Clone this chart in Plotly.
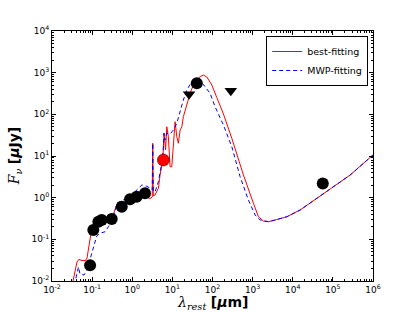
import plotly.graph_objects as go

# Photometric points (rest wavelength in micron, flux in microJy)
obs_wl = [0.089, 0.107, 0.143, 0.173, 0.308, 0.547, 0.88, 1.29, 2.08, 40.6, 56000]
obs_flux = [0.024, 0.168, 0.265, 0.291, 0.308, 0.607, 0.914, 1.05, 1.27, 555, 2.2]
red_wl = [5.97]
red_flux = [8.0]
lim_wl = [26, 286]
lim_flux = [302, 369]

best_wl = [0.0325, 0.0334, 0.042, 0.047, 0.056, 0.0684, 0.0746, 0.0838, 0.0966, 0.118, 0.157,
           0.249, 0.332, 0.41, 0.469, 0.66, 0.989, 1.57, 2.34, 2.78, 3.15, 3.24, 3.34, 3.70,
           4.48, 4.93, 5.76, 6.21, 6.77, 7.25, 7.94, 8.77, 9.66, 10.6, 11.7, 12.9, 14.1, 15.6,
           17.2, 18.8, 22.9, 27.6, 33.4, 40.6, 49.1, 59.3, 72.1, 96.1, 128, 187, 303, 590,
           1047, 1396, 1858, 2478, 3640, 7130, 15300, 39900, 1.04e5, 2.70e5, 1e6]
best_flux = [0.008, 0.01, 0.0286, 0.0332, 0.031, 0.031, 0.0356, 0.073, 0.168, 0.221, 0.308,
             0.325, 0.384, 0.667, 0.766, 0.745, 0.98, 1.16, 1.04, 0.955, 1.04, 20.2, 1.10, 1.16,
             1.68, 3.50, 8.01, 35.1, 13.9, 50.5, 29.0, 5.53, 5.53, 20.2, 66.5, 29.0, 20.2, 42.0,
             50.5, 87.7, 184, 319, 506, 667, 800, 879, 787, 506, 253, 102, 26.6, 3.50,
             0.733, 0.349, 0.275, 0.265, 0.291, 0.349, 0.506, 0.966, 1.83, 3.50, 10.6]

mwp_wl = [0.036, 0.0428, 0.0458, 0.0499, 0.0628, 0.0746, 0.0888, 0.107, 0.130, 0.157, 0.210,
          0.254, 0.308, 0.372, 0.41, 0.497, 0.741, 1.17, 1.73, 2.21, 2.78, 3.15, 3.24, 3.34,
          3.70, 4.48, 4.93, 5.44, 5.93, 6.21, 6.58, 7.25, 8.77, 10.6, 12.9, 15.6, 18.8, 22.9,
          30.5, 40.6, 49.1, 65.3, 87.1, 116, 187, 303, 488, 785, 1153, 1538, 2478, 3640, 7130,
          15300, 39900, 1.04e5, 2.70e5, 1e6]
mwp_flux = [0.008, 0.0184, 0.0217, 0.0147, 0.0139, 0.0184, 0.0319, 0.0655, 0.120, 0.140, 0.152,
            0.201, 0.291, 0.460, 0.733, 0.80, 0.98, 1.39, 2.01, 1.90, 1.71, 1.53, 20.2, 1.45,
            1.37, 2.42, 3.84, 6.79, 13.9, 35.1, 24.2, 35.1, 33.7, 42.0, 60.9, 127, 221, 384,
            607, 732, 648, 460, 319, 152, 55.4, 16.7, 3.18, 0.879, 0.384, 0.291, 0.265, 0.291, 0.349,
            0.506, 0.966, 1.83, 3.50, 10.6]

x_ticks = [1e-2, 1e-1, 1, 10, 100, 1e3, 1e4, 1e5, 1e6]
x_labels = ["10<sup>-2</sup>", "10<sup>-1</sup>", "10<sup>0</sup>", "10<sup>1</sup>", "10<sup>2</sup>",
            "10<sup>3</sup>", "10<sup>4</sup>", "10<sup>5</sup>", "10<sup>6</sup>"]
y_ticks = [1e-2, 1e-1, 1, 10, 100, 1e3, 1e4]
y_labels = ["10<sup>-2</sup>", "10<sup>-1</sup>", "10<sup>0</sup>", "10<sup>1</sup>", "10<sup>2</sup>",
            "10<sup>3</sup>", "10<sup>4</sup>"]

fig = go.Figure()
fig.add_trace(go.Scatter(x=best_wl, y=best_flux, mode="lines", name="best-fitting",
                         line=dict(color="#ff0000", width=1)))
fig.add_trace(go.Scatter(x=mwp_wl, y=mwp_flux, mode="lines", name="MWP-fitting",
                         line=dict(color="#0000ff", width=1, dash="4px,3px")))
fig.add_trace(go.Scatter(x=obs_wl, y=obs_flux, mode="markers", showlegend=False,
                         marker=dict(color="black", size=12, line=dict(width=0))))
fig.add_trace(go.Scatter(x=red_wl, y=red_flux, mode="markers", showlegend=False,
                         marker=dict(color="#ff0000", size=12, line=dict(color="#550000", width=0.6))))
fig.add_trace(go.Scatter(x=lim_wl, y=lim_flux, mode="markers", showlegend=False,
                         marker=dict(color="black", size=11, symbol="triangle-down", line=dict(width=0))))

axis_common = dict(type="log", showgrid=False, zeroline=False, showline=True, linecolor="black",
                   linewidth=1, mirror="ticks", ticks="inside", ticklen=4, tickcolor="black",
                   tickfont=dict(family="DejaVu Sans", size=9, color="black"),
                   minor=dict(ticks="inside", ticklen=2, tickcolor="black", dtick="D1", showgrid=False))
fig.update_xaxes(range=[-2, 6], tickvals=x_ticks, ticktext=x_labels, **axis_common)
fig.update_yaxes(range=[-2, 4], tickvals=y_ticks, ticktext=y_labels, **axis_common)

fig.add_annotation(xref="paper", yref="paper", x=0.5, y=-0.042, yanchor="top", showarrow=False,
                   text="<span style='font-family:DejaVu Serif'><i>λ</i><sub><i>rest</i></sub></span> <b>[<i>μ</i>m]</b>",
                   font=dict(family="DejaVu Sans", size=14, color="black"))
fig.add_annotation(xref="paper", yref="paper", x=-0.08, y=0.5, xanchor="right", textangle=-90, showarrow=False,
                   text="<span style='font-family:DejaVu Serif'><i>F</i><sub><i>ν</i></sub></span> <b>[<i>μ</i>Jy]</b>",
                   font=dict(family="DejaVu Sans", size=14, color="black"))

fig.update_layout(width=415, height=312, margin=dict(l=52, r=42, t=31, b=31),
                  paper_bgcolor="white", plot_bgcolor="white",
                  legend=dict(x=0.985, y=0.98, xanchor="right", yanchor="top", bordercolor="black",
                              borderwidth=1, bgcolor="white",
                              font=dict(family="DejaVu Sans", size=9.5, color="black"),
                              tracegroupgap=0, itemwidth=30))
fig.write_html("out.html", config={"displayModeBar": False},
               post_script="document.body.style.margin='0';document.body.style.padding='0';")
